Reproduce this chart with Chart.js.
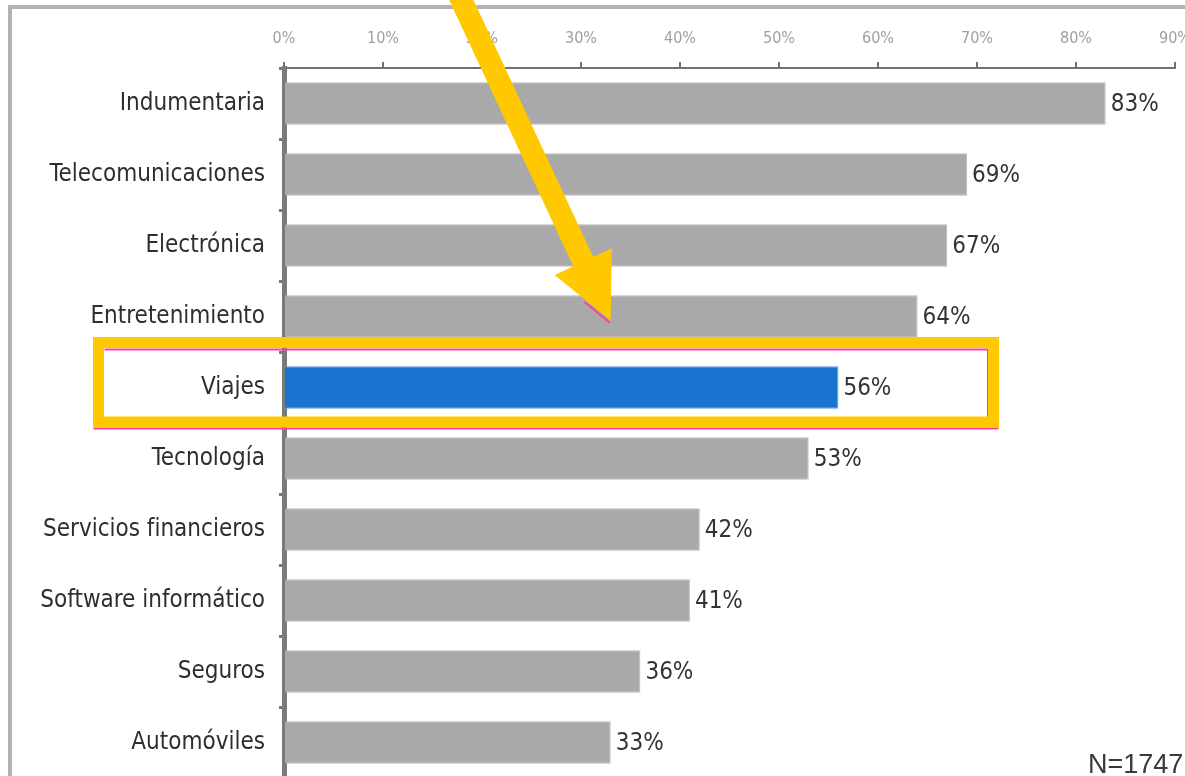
<!DOCTYPE html>
<html lang="es">
<head>
<meta charset="utf-8">
<title>Categorías</title>
<script src="https://cdn.jsdelivr.net/npm/chart.js@4.4.1/dist/chart.umd.min.js"></script>
<style>
  html, body { margin: 0; padding: 0; background: #fff; overflow: hidden; width: 1185px; height: 776px; }
  #frame { position: absolute; left: 8px; top: 5px; width: 1300px; height: 900px;
           border-left: 4px solid #b2b2b2; border-top: 4px solid #b2b2b2; box-sizing: border-box; }
  #wrap { position: absolute; left: 0; top: 0; width: 1200px; height: 790px; }
  #note { position: absolute; left: 1088px; top: 749px; font: 27px "Liberation Sans", Arial, sans-serif;
          color: #3a3a3a; white-space: nowrap; }
</style>
</head>
<body>
<div id="frame"></div>
<div id="wrap"><canvas id="chart" width="1200" height="790"></canvas></div>
<div id="note">N=1747</div>
<script>
// Sectors and the share of respondents for each one
const categories = ['Indumentaria', 'Telecomunicaciones', 'Electrónica', 'Entretenimiento', 'Viajes',
                    'Tecnología', 'Servicios financieros', 'Software informático', 'Seguros', 'Automóviles'];
const shares = [83, 69, 67, 64, 56, 53, 42, 41, 36, 33];
const highlighted = 'Viajes';
const axisMax = 90;
const axisStep = 10;

const narrow = '"Liberation Sans Narrow", "DejaVu Sans Condensed", "Arial Narrow", sans-serif';
const GREY = '#a9a9a9';
const BLUE = '#1b73d0';
const YELLOW = '#ffc800';
const PINK = '#ff3f9f';

// Percentage printed just past the end of each bar
const valueLabels = {
  id: 'valueLabels',
  afterDatasetsDraw(chart) {
    const ctx = chart.ctx;
    const meta = chart.getDatasetMeta(0);
    ctx.save();
    ctx.font = '24px ' + narrow;
    ctx.fillStyle = '#333';
    ctx.textAlign = 'left';
    ctx.textBaseline = 'middle';
    meta.data.forEach((bar, i) => {
      ctx.fillText(shares[i] + '%', bar.x + 5, bar.y + 1);
    });
    ctx.restore();
  }
};

// Yellow frame around the highlighted row and the arrow pointing at it
const callout = {
  id: 'callout',
  afterDraw(chart) {
    const ctx = chart.ctx;
    const x = chart.scales.x;
    const y = chart.scales.y;
    const cy = y.getPixelForValue(categories.indexOf(highlighted));
    const left = 98.5, right = 993.5;
    const top = cy - 45, bottom = cy + 34.5;

    ctx.save();
    // thin magenta edges along the frame
    ctx.strokeStyle = PINK;
    ctx.lineWidth = 2;
    ctx.beginPath();
    ctx.moveTo(left + 6, top + 7); ctx.lineTo(right - 5, top + 7);
    ctx.moveTo(right - 5.5, top + 7); ctx.lineTo(right - 5.5, bottom - 5);
    ctx.moveTo(left - 5, bottom + 6.5); ctx.lineTo(right + 5, bottom + 6.5);
    ctx.stroke();

    ctx.strokeStyle = YELLOW;
    ctx.lineWidth = 11;
    ctx.strokeRect(left, top, right - left, bottom - top);

    // arrow: tip above the highlighted bar, shaft running off the top edge
    const tx = x.getPixelForValue(33), ty = top - 22;
    const d = [0.4225, 0.9064];
    const n = [0.9064, -0.4225];
    const headLen = 65, headHalf = 31.5, shaftHalf = 11;
    const mx = tx - d[0] * headLen, my = ty - d[1] * headLen;
    const back = (my + 20) / d[1];
    const sx = mx - d[0] * back, sy = my - d[1] * back;

    // magenta fringe on the lower edge of the head, near the tip
    const ex = mx - n[0] * headHalf, ey = my - n[1] * headHalf;
    ctx.strokeStyle = PINK;
    ctx.lineWidth = 2;
    ctx.beginPath();
    ctx.moveTo(tx - 1, ty + 2);
    ctx.lineTo(tx - 1 + (ex - tx) * 0.45, ty + 2 + (ey - ty) * 0.45);
    ctx.stroke();

    ctx.fillStyle = YELLOW;
    ctx.beginPath();
    ctx.moveTo(sx + n[0] * shaftHalf, sy + n[1] * shaftHalf);
    ctx.lineTo(mx + n[0] * shaftHalf, my + n[1] * shaftHalf);
    ctx.lineTo(mx + n[0] * headHalf, my + n[1] * headHalf);
    ctx.lineTo(tx, ty);
    ctx.lineTo(ex, ey);
    ctx.lineTo(mx - n[0] * shaftHalf, my - n[1] * shaftHalf);
    ctx.lineTo(sx - n[0] * shaftHalf, sy - n[1] * shaftHalf);
    ctx.closePath();
    ctx.fill();
    ctx.restore();
  }
};

new Chart(document.getElementById('chart'), {
  type: 'bar',
  data: {
    labels: categories,
    datasets: [{
      data: shares,
      backgroundColor: categories.map(c => c === highlighted ? BLUE : GREY),
      borderColor: categories.map(c => c === highlighted ? '#5d9de2' : '#b9b9b9'),
      borderWidth: 1,
      borderSkipped: 'left',
      barPercentage: 0.6,
      categoryPercentage: 1
    }]
  },
  options: {
    indexAxis: 'y',
    responsive: false,
    devicePixelRatio: 1,
    animation: false,
    layout: { padding: { left: 0, top: 0, right: 25, bottom: 12 } },
    plugins: { legend: { display: false }, tooltip: { enabled: false } },
    scales: {
      x: {
        position: 'top',
        min: 0,
        max: axisMax,
        afterFit(scale) { scale.height = 68; scale.paddingLeft = 0; scale.paddingRight = 0; },
        ticks: {
          stepSize: axisStep,
          padding: 14,
          color: '#a0a0a0',
          font: { family: narrow, size: 16 },
          callback: v => v + '%'
        },
        grid: { drawOnChartArea: false, tickLength: 6, color: '#707070', lineWidth: 2 },
        border: { display: true, color: '#707070', width: 2 }
      },
      y: {
        afterFit(scale) { scale.width = 284; scale.paddingTop = 0; scale.paddingBottom = 0; },
        ticks: {
          padding: 14,
          color: '#2e2e2e',
          font: { family: narrow, size: 24 }
        },
        grid: { drawOnChartArea: false, tickLength: 5, color: '#777', lineWidth: 3, offset: true },
        border: { display: true, color: '#7a7a7a', width: 5 }
      }
    }
  },
  plugins: [valueLabels, callout]
});
</script>
</body>
</html>
